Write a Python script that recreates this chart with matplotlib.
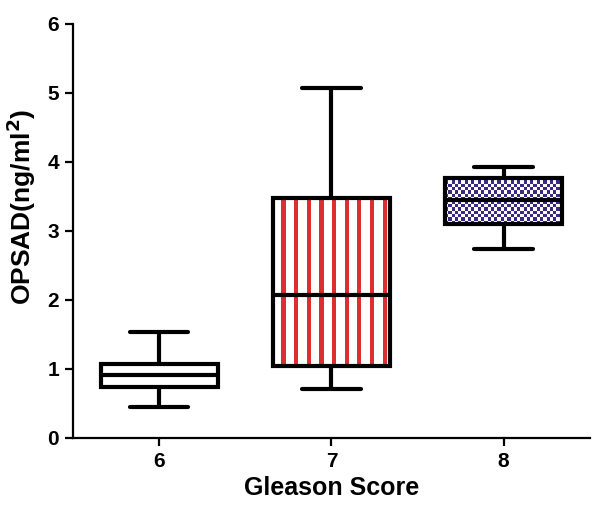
import numpy as np
import matplotlib.pyplot as plt
from matplotlib.colors import ListedColormap

plt.rcParams["font.family"] = ["Liberation Sans", "DejaVu Sans"]
plt.rcParams["font.weight"] = "bold"

# box statistics (whisker low, q1, median, q3, whisker high)
categories = ["6", "7", "8"]
whislo = [0.45, 0.71, 2.74]
q1 = [0.74, 1.04, 3.10]
med = [0.91, 2.07, 3.45]
q3 = [1.07, 3.48, 3.77]
whishi = [1.54, 5.07, 3.93]

stats = []
for i, c in enumerate(categories):
    stats.append(dict(label=c, whislo=whislo[i], q1=q1[i], med=med[i],
                      q3=q3[i], whishi=whishi[i]))

fig = plt.figure(figsize=(6, 5.09), dpi=100)
ax = fig.add_axes([0.1217, 0.1395, 0.8613, 0.8135])

positions = [1, 2, 3]
width = 0.68
lw = 3.0
ax.bxp(stats, positions=positions, widths=width, showfliers=False,
       patch_artist=True,
       boxprops=dict(facecolor="none", edgecolor="black", linewidth=lw, zorder=3),
       medianprops=dict(color="black", linewidth=lw, zorder=4),
       whiskerprops=dict(color="black", linewidth=lw, solid_capstyle="round"),
       capprops=dict(color="black", linewidth=lw, solid_capstyle="round"),
       capwidths=width / 2)

# fill patterns: red vertical stripes for 7, navy checkerboard for 8
stripes = np.array([[0, 0, 1] * 9 + [0]])
ax.imshow(stripes, cmap=ListedColormap(["white", "#dc2f2f"]), aspect="auto",
          interpolation="nearest", zorder=2,
          extent=[positions[1] - width / 2, positions[1] + width / 2, q1[1], q3[1]])

nx, ny = 36, 14
checker = (np.add.outer(np.arange(ny), np.arange(nx)) % 2)
ax.imshow(checker, cmap=ListedColormap(["white", "#3b2a85"]), aspect="auto",
          interpolation="nearest", zorder=2,
          extent=[positions[2] - width / 2, positions[2] + width / 2, q1[2], q3[2]])

ax.set_xlim(0.5, 3.5)
ax.set_ylim(0, 6)
ax.set_xticks(positions)
ax.set_xticklabels(categories)
ax.set_yticks(range(0, 7))

for s in ["top", "right"]:
    ax.spines[s].set_visible(False)
for s in ["left", "bottom"]:
    ax.spines[s].set_linewidth(1.6)
ax.tick_params(axis="both", width=1.6, length=6, labelsize=15, pad=4)

ax.set_xlabel("Gleason Score", fontsize=18, fontweight="bold", labelpad=4)
ax.set_ylabel("OPSAD(ng/ml$^\\mathbf{2}$)", fontsize=19, fontweight="bold")
ax.yaxis.set_label_coords(-0.068, 0.558)

fig.savefig("out.png", dpi=100)
